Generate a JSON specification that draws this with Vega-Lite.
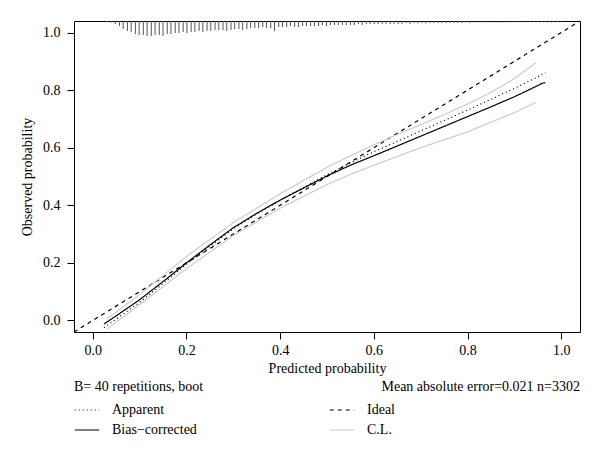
{
  "$schema": "https://vega.github.io/schema/vega-lite/v6.json",
  "width": 506,
  "height": 311,
  "autosize": "none",
  "padding": {"left": 74, "top": 21, "right": 20, "bottom": 132},
  "background": "white",
  "config": {
    "view": {"stroke": "black", "strokeWidth": 1},
    "font": "Liberation Serif",
    "axis": {
      "labelFont": "Liberation Serif", "labelFontSize": 14, "labelColor": "black",
      "titleFont": "Liberation Serif", "titleFontSize": 14, "titleFontWeight": "normal", "titleColor": "black",
      "tickColor": "black", "tickSize": 7, "domain": false, "grid": false
    },
    "legend": {
      "labelFont": "Liberation Serif", "labelFontSize": 14, "labelColor": "black"
    }
  },
  "datasets": {
    "curves": [
      {"curve": "Ideal", "series": "Ideal", "x": -0.04, "y": -0.04},
      {"curve": "Ideal", "series": "Ideal", "x": 1.04, "y": 1.04},
      {"curve": "Apparent", "series": "Apparent", "x": 0.024, "y": -0.025},
      {"curve": "Apparent", "series": "Apparent", "x": 0.05, "y": 0.005},
      {"curve": "Apparent", "series": "Apparent", "x": 0.1, "y": 0.063},
      {"curve": "Apparent", "series": "Apparent", "x": 0.15, "y": 0.128},
      {"curve": "Apparent", "series": "Apparent", "x": 0.2, "y": 0.195},
      {"curve": "Apparent", "series": "Apparent", "x": 0.25, "y": 0.258},
      {"curve": "Apparent", "series": "Apparent", "x": 0.3, "y": 0.318},
      {"curve": "Apparent", "series": "Apparent", "x": 0.35, "y": 0.37},
      {"curve": "Apparent", "series": "Apparent", "x": 0.4, "y": 0.418},
      {"curve": "Apparent", "series": "Apparent", "x": 0.45, "y": 0.462},
      {"curve": "Apparent", "series": "Apparent", "x": 0.5, "y": 0.506},
      {"curve": "Apparent", "series": "Apparent", "x": 0.55, "y": 0.547},
      {"curve": "Apparent", "series": "Apparent", "x": 0.6, "y": 0.586},
      {"curve": "Apparent", "series": "Apparent", "x": 0.65, "y": 0.622},
      {"curve": "Apparent", "series": "Apparent", "x": 0.7, "y": 0.658},
      {"curve": "Apparent", "series": "Apparent", "x": 0.75, "y": 0.694},
      {"curve": "Apparent", "series": "Apparent", "x": 0.8, "y": 0.731},
      {"curve": "Apparent", "series": "Apparent", "x": 0.85, "y": 0.768},
      {"curve": "Apparent", "series": "Apparent", "x": 0.9, "y": 0.806},
      {"curve": "Apparent", "series": "Apparent", "x": 0.95, "y": 0.846},
      {"curve": "Apparent", "series": "Apparent", "x": 0.966, "y": 0.862},
      {"curve": "Bias", "series": "Bias−corrected", "x": 0.024, "y": -0.012},
      {"curve": "Bias", "series": "Bias−corrected", "x": 0.05, "y": 0.016},
      {"curve": "Bias", "series": "Bias−corrected", "x": 0.1, "y": 0.072},
      {"curve": "Bias", "series": "Bias−corrected", "x": 0.15, "y": 0.135},
      {"curve": "Bias", "series": "Bias−corrected", "x": 0.2, "y": 0.2},
      {"curve": "Bias", "series": "Bias−corrected", "x": 0.25, "y": 0.262},
      {"curve": "Bias", "series": "Bias−corrected", "x": 0.3, "y": 0.322},
      {"curve": "Bias", "series": "Bias−corrected", "x": 0.35, "y": 0.372},
      {"curve": "Bias", "series": "Bias−corrected", "x": 0.4, "y": 0.418},
      {"curve": "Bias", "series": "Bias−corrected", "x": 0.45, "y": 0.46},
      {"curve": "Bias", "series": "Bias−corrected", "x": 0.5, "y": 0.502},
      {"curve": "Bias", "series": "Bias−corrected", "x": 0.55, "y": 0.539},
      {"curve": "Bias", "series": "Bias−corrected", "x": 0.6, "y": 0.572},
      {"curve": "Bias", "series": "Bias−corrected", "x": 0.65, "y": 0.606},
      {"curve": "Bias", "series": "Bias−corrected", "x": 0.7, "y": 0.64},
      {"curve": "Bias", "series": "Bias−corrected", "x": 0.75, "y": 0.674},
      {"curve": "Bias", "series": "Bias−corrected", "x": 0.8, "y": 0.708},
      {"curve": "Bias", "series": "Bias−corrected", "x": 0.85, "y": 0.742},
      {"curve": "Bias", "series": "Bias−corrected", "x": 0.9, "y": 0.777},
      {"curve": "Bias", "series": "Bias−corrected", "x": 0.93, "y": 0.8},
      {"curve": "Bias", "series": "Bias−corrected", "x": 0.95, "y": 0.816},
      {"curve": "Bias", "series": "Bias−corrected", "x": 0.96, "y": 0.824},
      {"curve": "Bias", "series": "Bias−corrected", "x": 0.966, "y": 0.826},
      {"curve": "CL upper", "series": "C.L.", "x": 0.03, "y": 0.005},
      {"curve": "CL upper", "series": "C.L.", "x": 0.1, "y": 0.09},
      {"curve": "CL upper", "series": "C.L.", "x": 0.2, "y": 0.222},
      {"curve": "CL upper", "series": "C.L.", "x": 0.3, "y": 0.34},
      {"curve": "CL upper", "series": "C.L.", "x": 0.4, "y": 0.44},
      {"curve": "CL upper", "series": "C.L.", "x": 0.5, "y": 0.532},
      {"curve": "CL upper", "series": "C.L.", "x": 0.55, "y": 0.572},
      {"curve": "CL upper", "series": "C.L.", "x": 0.6, "y": 0.61},
      {"curve": "CL upper", "series": "C.L.", "x": 0.65, "y": 0.646},
      {"curve": "CL upper", "series": "C.L.", "x": 0.7, "y": 0.68},
      {"curve": "CL upper", "series": "C.L.", "x": 0.75, "y": 0.715},
      {"curve": "CL upper", "series": "C.L.", "x": 0.8, "y": 0.752},
      {"curve": "CL upper", "series": "C.L.", "x": 0.85, "y": 0.792},
      {"curve": "CL upper", "series": "C.L.", "x": 0.9, "y": 0.84},
      {"curve": "CL upper", "series": "C.L.", "x": 0.946, "y": 0.895},
      {"curve": "CL lower", "series": "C.L.", "x": 0.03, "y": -0.03},
      {"curve": "CL lower", "series": "C.L.", "x": 0.1, "y": 0.055},
      {"curve": "CL lower", "series": "C.L.", "x": 0.2, "y": 0.18},
      {"curve": "CL lower", "series": "C.L.", "x": 0.3, "y": 0.295},
      {"curve": "CL lower", "series": "C.L.", "x": 0.4, "y": 0.39},
      {"curve": "CL lower", "series": "C.L.", "x": 0.5, "y": 0.472},
      {"curve": "CL lower", "series": "C.L.", "x": 0.55, "y": 0.507},
      {"curve": "CL lower", "series": "C.L.", "x": 0.6, "y": 0.539},
      {"curve": "CL lower", "series": "C.L.", "x": 0.7, "y": 0.6},
      {"curve": "CL lower", "series": "C.L.", "x": 0.8, "y": 0.655},
      {"curve": "CL lower", "series": "C.L.", "x": 0.9, "y": 0.722},
      {"curve": "CL lower", "series": "C.L.", "x": 0.946, "y": 0.757}
    ],
    "spikes": [
      {"x": 0.031, "lo": 1.0365}, {"x": 0.040, "lo": 1.0348}, {"x": 0.048, "lo": 1.0296}, {"x": 0.057, "lo": 1.0226},
      {"x": 0.065, "lo": 1.0122}, {"x": 0.074, "lo": 1.0052}, {"x": 0.082, "lo": 1.0018}, {"x": 0.091, "lo": 0.9948},
      {"x": 0.099, "lo": 0.9913}, {"x": 0.108, "lo": 0.9913}, {"x": 0.116, "lo": 0.9879}, {"x": 0.125, "lo": 0.9879},
      {"x": 0.133, "lo": 0.9913}, {"x": 0.142, "lo": 0.9913}, {"x": 0.150, "lo": 0.9879}, {"x": 0.159, "lo": 0.9948},
      {"x": 0.167, "lo": 0.9948}, {"x": 0.176, "lo": 0.9983}, {"x": 0.184, "lo": 0.9983}, {"x": 0.193, "lo": 1.0018},
      {"x": 0.201, "lo": 0.9983}, {"x": 0.210, "lo": 1.0018}, {"x": 0.218, "lo": 1.0018}, {"x": 0.227, "lo": 1.0052},
      {"x": 0.235, "lo": 1.0018}, {"x": 0.244, "lo": 1.0052}, {"x": 0.252, "lo": 1.0052}, {"x": 0.261, "lo": 1.0087},
      {"x": 0.269, "lo": 1.0087}, {"x": 0.278, "lo": 1.0087}, {"x": 0.286, "lo": 1.0052}, {"x": 0.295, "lo": 1.0087},
      {"x": 0.303, "lo": 1.0122}, {"x": 0.312, "lo": 1.0122}, {"x": 0.320, "lo": 1.0087}, {"x": 0.329, "lo": 1.0122},
      {"x": 0.337, "lo": 1.0157}, {"x": 0.346, "lo": 1.0157}, {"x": 0.354, "lo": 1.0157}, {"x": 0.363, "lo": 1.0191},
      {"x": 0.371, "lo": 1.0157}, {"x": 0.380, "lo": 1.0157}, {"x": 0.388, "lo": 1.0052}, {"x": 0.397, "lo": 1.0191},
      {"x": 0.405, "lo": 1.0191}, {"x": 0.414, "lo": 1.0191}, {"x": 0.422, "lo": 1.0226}, {"x": 0.431, "lo": 1.0191},
      {"x": 0.439, "lo": 1.0191}, {"x": 0.448, "lo": 1.0226}, {"x": 0.456, "lo": 1.0226}, {"x": 0.465, "lo": 1.0226},
      {"x": 0.473, "lo": 1.0226}, {"x": 0.482, "lo": 1.0226}, {"x": 0.490, "lo": 1.0261}, {"x": 0.499, "lo": 1.0226},
      {"x": 0.507, "lo": 1.0261}, {"x": 0.516, "lo": 1.0261}, {"x": 0.524, "lo": 1.0261}, {"x": 0.533, "lo": 1.0261},
      {"x": 0.541, "lo": 1.0261}, {"x": 0.550, "lo": 1.0261}, {"x": 0.558, "lo": 1.0261}, {"x": 0.567, "lo": 1.0296},
      {"x": 0.575, "lo": 1.0261}, {"x": 0.584, "lo": 1.0296}, {"x": 0.592, "lo": 1.0296}, {"x": 0.601, "lo": 1.0296},
      {"x": 0.609, "lo": 1.0296}, {"x": 0.618, "lo": 1.0296}, {"x": 0.626, "lo": 1.0296}, {"x": 0.635, "lo": 1.0296},
      {"x": 0.643, "lo": 1.0296}, {"x": 0.652, "lo": 1.0296}, {"x": 0.660, "lo": 1.0296}, {"x": 0.669, "lo": 1.033},
      {"x": 0.677, "lo": 1.0296}, {"x": 0.686, "lo": 1.033}, {"x": 0.694, "lo": 1.0313}, {"x": 0.703, "lo": 1.033},
      {"x": 0.711, "lo": 1.0313}, {"x": 0.720, "lo": 1.033}, {"x": 0.728, "lo": 1.033}, {"x": 0.737, "lo": 1.033},
      {"x": 0.745, "lo": 1.033}, {"x": 0.754, "lo": 1.033}, {"x": 0.762, "lo": 1.033}, {"x": 0.771, "lo": 1.033},
      {"x": 0.779, "lo": 1.033}, {"x": 0.788, "lo": 1.033}, {"x": 0.796, "lo": 1.0348}, {"x": 0.805, "lo": 1.033},
      {"x": 0.814, "lo": 1.0348}, {"x": 0.822, "lo": 1.0348}, {"x": 0.831, "lo": 1.0348}, {"x": 0.839, "lo": 1.0348},
      {"x": 0.848, "lo": 1.0348}, {"x": 0.856, "lo": 1.0348}, {"x": 0.865, "lo": 1.0348}, {"x": 0.873, "lo": 1.0348},
      {"x": 0.882, "lo": 1.0348}, {"x": 0.890, "lo": 1.0358}, {"x": 0.899, "lo": 1.0358}, {"x": 0.907, "lo": 1.0358},
      {"x": 0.916, "lo": 1.0358}, {"x": 0.924, "lo": 1.0358}, {"x": 0.933, "lo": 1.0365}, {"x": 0.941, "lo": 1.0365},
      {"x": 0.950, "lo": 1.0365}, {"x": 0.958, "lo": 1.0365}, {"x": 0.967, "lo": 1.0365}, {"x": 0.975, "lo": 1.0365},
      {"x": 0.984, "lo": 1.0365}, {"x": 0.992, "lo": 1.0365}, {"x": 1.001, "lo": 1.0365}
    ]
  },
  "layer": [
    {
      "data": {"name": "curves"},
      "mark": {"type": "line", "strokeWidth": 1.2},
      "encoding": {
        "x": {"field": "x", "type": "quantitative", "scale": {"domain": [-0.04, 1.04], "nice": false, "zero": false},
              "axis": {"values": [0, 0.2, 0.4, 0.6, 0.8, 1.0], "format": ".1f", "title": "Predicted probability", "labelPadding": 4, "titlePadding": 4}},
        "y": {"field": "y", "type": "quantitative", "scale": {"domain": [-0.04, 1.04], "nice": false, "zero": false},
              "axis": {"values": [0, 0.2, 0.4, 0.6, 0.8, 1.0], "format": ".1f", "title": "Observed probability", "labelPadding": 7, "titlePadding": 8}},
        "detail": {"field": "curve", "type": "nominal"},
        "order": {"field": "x", "type": "quantitative"},
        "color": {"field": "series", "type": "nominal",
                  "scale": {"domain": ["Apparent", "Bias−corrected", "Ideal", "C.L."], "range": ["black", "black", "black", "#cccccc"]},
                  "legend": {"title": null, "orient": "none", "legendX": 0, "legendY": 376, "columns": 2, "columnPadding": 130,
                             "rowPadding": 0, "symbolType": "stroke", "symbolSize": 600, "symbolStrokeWidth": 1.2, "labelOffset": 12, "padding": 0}},
        "strokeDash": {"field": "series", "type": "nominal",
                       "scale": {"domain": ["Apparent", "Bias−corrected", "Ideal", "C.L."], "range": [[1, 3], [1, 0], [4, 4], [1, 0]]},
                       "legend": {"title": null, "orient": "none", "legendX": 0, "legendY": 376, "columns": 2, "columnPadding": 130,
                             "rowPadding": 0, "symbolType": "stroke", "symbolSize": 600, "symbolStrokeWidth": 1.2, "labelOffset": 12, "padding": 0}}
      }
    },
    {
      "data": {"name": "spikes"},
      "mark": {"type": "rule", "color": "#555555", "strokeWidth": 1},
      "encoding": {
        "x": {"field": "x", "type": "quantitative"},
        "y": {"field": "lo", "type": "quantitative"},
        "y2": {"datum": 1.04}
      }
    },
    {
      "data": {"values": [{"label": "B= 40 repetitions, boot"}]},
      "mark": {"type": "text", "align": "left", "baseline": "middle", "fontSize": 14, "font": "Liberation Serif", "color": "black"},
      "encoding": {
        "x": {"datum": -0.04, "type": "quantitative"},
        "y": {"datum": -0.232, "type": "quantitative"},
        "text": {"field": "label", "type": "nominal"}
      }
    },
    {
      "data": {"values": [{"label": "Mean absolute error=0.021 n=3302"}]},
      "mark": {"type": "text", "align": "right", "baseline": "middle", "fontSize": 14, "font": "Liberation Serif", "color": "black"},
      "encoding": {
        "x": {"datum": 1.04, "type": "quantitative"},
        "y": {"datum": -0.232, "type": "quantitative"},
        "text": {"field": "label", "type": "nominal"}
      }
    }
  ]
}
